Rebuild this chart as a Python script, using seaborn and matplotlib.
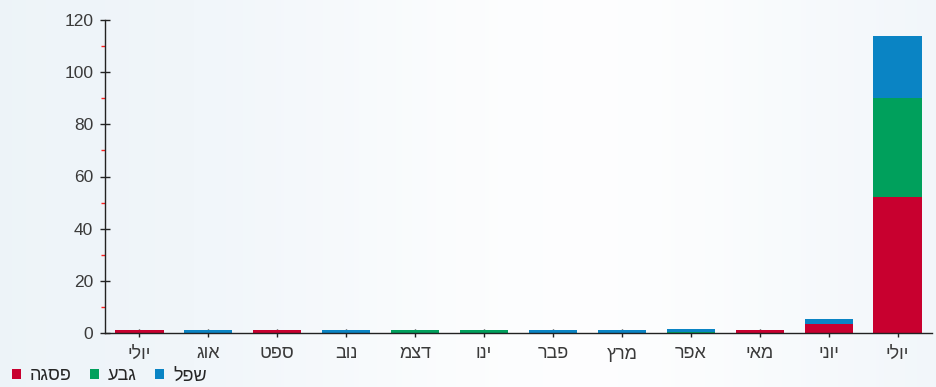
import numpy as np
import pandas as pd
import matplotlib
matplotlib.use("Agg")
import matplotlib.pyplot as plt
from matplotlib.patches import Patch
import seaborn as sns

# ---- data ----
months = ["יולי", "אוג", "ספט", "נוב", "דצמ", "ינו", "פבר", "מרץ", "אפר", "מאי", "יוני", "יולי"]
series_names = ["פסגה", "גבע", "שפל"]
peak = [1, 0, 1, 0, 0, 0, 0, 0, 0, 1, 3.5, 52]
hill = [0, 0, 0, 0, 1, 1, 0, 0, 0.5, 0, 0, 38]
low = [0, 1, 0, 1, 0, 0, 1, 1, 1, 0, 2, 24]
y_ticks = [0, 20, 40, 60, 80, 100, 120]

colors = ["#c8002f", "#00a05c", "#0a84c4"]


def vis(s):
    # visual right-to-left order (matplotlib lays text out left to right)
    return s[::-1]


sns.set_style("white")
plt.rcParams["font.family"] = ["Liberation Sans", "DejaVu Sans"]

fig = plt.figure(figsize=(9.36, 3.87), dpi=100)

# soft background gradient
bg = fig.add_axes([0, 0, 1, 1], zorder=-10)
xx = np.linspace(0, 1, 400)
yy = np.linspace(0, 1, 200)
X, Y = np.meshgrid(xx, yy)
g = np.exp(-((X - 0.62) ** 2) / 0.12) * 0.9
base = np.array([0.93, 0.955, 0.975])
white = np.array([1.0, 1.0, 1.0])
img = base[None, None, :] * (1 - g[..., None]) + white[None, None, :] * g[..., None]
bg.imshow(img, aspect="auto", extent=[0, 1, 0, 1])
bg.axis("off")

ax = fig.add_axes([105 / 936, 1 - 333 / 387, (932 - 105) / 936, (333 - 20) / 387])
ax.patch.set_alpha(0)

df = pd.DataFrame({"x": range(len(months)), "peak": peak, "hill": hill, "low": low})
df["c1"] = df["peak"]
df["c2"] = df["peak"] + df["hill"]
df["c3"] = df["peak"] + df["hill"] + df["low"]

order = list(range(len(months)))
for col, c in [("c3", colors[2]), ("c2", colors[1]), ("c1", colors[0])]:
    sns.barplot(data=df, x="x", y=col, order=order, color=c, width=0.7,
                saturation=1, linewidth=0, ax=ax)

ax.set_xlim(-0.5, 11.5)
ax.set_ylim(0, 120)
ax.set_yticks(y_ticks)
ax.set_yticklabels([str(v) for v in y_ticks], fontsize=12.5, color="#3a3a3a")
ax.set_yticks([10, 30, 50, 70, 90, 110], minor=True)
ax.set_xticks(order)
ax.set_xticklabels([vis(m) for m in months], fontsize=13, color="#3a3a3a")
ax.set_xlabel("")
ax.set_ylabel("")

for s in ["top", "right"]:
    ax.spines[s].set_visible(False)
ax.spines["left"].set_color("#222222")
ax.spines["bottom"].set_color("#222222")
ax.spines["left"].set_linewidth(1)
ax.spines["bottom"].set_linewidth(1)
ax.tick_params(axis="y", which="major", direction="inout", length=7, width=1,
               color="#222222", pad=5, left=True)
ax.tick_params(axis="y", which="minor", direction="out", length=3, width=1,
               color="#ff2020", left=True)
ax.tick_params(axis="x", which="major", direction="inout", length=6, width=1,
               color="#222222", pad=6, bottom=True)

handles = [Patch(facecolor=c, edgecolor="none") for c in colors]
fig.legend(handles, [vis(n) for n in series_names], loc="center left",
           bbox_to_anchor=(12 / 936, 1 - 376 / 387), ncol=3, frameon=False,
           borderpad=0, borderaxespad=0,
           handlelength=0.5, handleheight=0.5, handletextpad=0.5,
           columnspacing=1.0, prop={"size": 13})

fig.savefig("out.png", dpi=100)
